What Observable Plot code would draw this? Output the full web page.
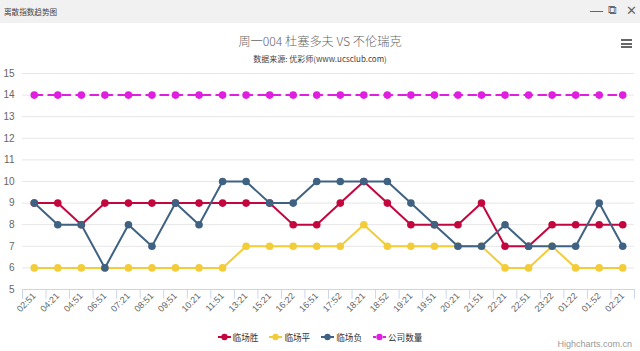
<!DOCTYPE html>
<html>
<head>
<meta charset="utf-8">
<script src="https://cdn.jsdelivr.net/npm/d3@7"></script>
<script src="https://cdn.jsdelivr.net/npm/@observablehq/plot@0.6"></script>
<style>
  html, body { margin: 0; padding: 0; background: #fff; }
  body { width: 640px; height: 351px; overflow: hidden; font-family: "Liberation Sans", "Noto Sans CJK SC", sans-serif; }
  #wrap { position: relative; width: 640px; height: 351px; }
  #bar { position: absolute; left: 0; top: 0; width: 640px; height: 23px; background: #f1f1f1; }
  #bar .t { position: absolute; left: 4px; top: 6px; font-size: 7.6px; color: #444; font-family: "Noto Sans CJK SC", sans-serif; }
  #bar .ic { position: absolute; top: 3px; font-size: 13px; color: #666; }
  #title { position: absolute; left: 0; width: 640px; top: 32px; text-align: center; font-size: 12.2px; color: #666; font-family: "Noto Sans CJK SC", sans-serif; font-weight: 300; }
  #sub { position: absolute; left: 0; width: 640px; top: 53px; text-align: center; font-size: 8px; color: #444; font-family: "Noto Sans CJK SC", sans-serif; }
  #menu { position: absolute; left: 621px; top: 39px; width: 11px; }
  #menu div { height: 2px; background: #666; margin-bottom: 1.5px; }
  #chart { position: absolute; left: 0; top: 62px; }
  #legend { position: absolute; left: 0; width: 640px; top: 331px; display: flex; justify-content: center; font-size: 8.6px; color: #333; font-family: "Noto Sans CJK SC", sans-serif; }
  #legend .it { display: flex; align-items: center; margin: 0 5.5px; }
  #legend svg { margin-right: 2px; }
  #credit { position: absolute; right: 8px; top: 339px; font-size: 9px; line-height: 10px; color: #999; }
</style>
</head>
<body>
<div id="wrap">
  <div id="bar"><span class="t">离散指数趋势图</span>
    <span class="ic" style="left:590px;">—</span>
    <span class="ic" style="left:608px;font-size:12px;">⧉</span>
    <span class="ic" style="left:626px;">✕</span>
  </div>
  <div id="title">周一004 杜塞多夫 VS 不伦瑞克</div>
  <div id="sub">数据来源: 优彩师(www.ucsclub.com)</div>
  <div id="menu"><div></div><div></div><div></div></div>
  <div id="chart"></div>
  <div id="legend"></div>
  <div id="credit">Highcharts.com.cn</div>
</div>
<script>
const categories = ["02:51","04:21","04:51","06:51","07:21","08:51","09:51","10:21","11:51","13:21","15:21","16:22","16:51","17:52","18:21","18:52","19:21","19:51","20:21","21:51","22:21","22:51","23:22","01:22","01:52","02:21"];
const seriesNames = ["临场胜","临场平","临场负","公司数量"];
const seriesColors = ["#c3063e","#f3cc3a","#3f6283","#e01ee0"];
const winValues  = [9,9,8,9,9,9,9,9,9,9,9,8,8,9,10,9,8,8,8,9,7,7,8,8,8,8];
const drawValues = [6,6,6,6,6,6,6,6,6,7,7,7,7,7,8,7,7,7,7,7,6,6,7,6,6,6];
const lossValues = [9,8,8,6,8,7,9,8,10,10,9,9,10,10,10,10,9,8,7,7,8,7,7,7,9,7];
const companyValues = [14,14,14,14,14,14,14,14,14,14,14,14,14,14,14,14,14,14,14,14,14,14,14,14,14,14];
const yTicks = [5,6,7,8,9,10,11,12,13,14,15];

const allValues = [winValues, drawValues, lossValues, companyValues];
const rows = allValues.map((vals, si) => vals.map((v, i) => ({t: categories[i], v, s: seriesNames[si]})));

const W = 640, H = 258, ML = 22, MR = 6, MT = 11, MB = 31;
const step = (W - ML - MR) / categories.length;

const seriesMarks = rows.flatMap((data, si) => [
  Plot.line(data, {x: "t", y: "v", stroke: seriesColors[si], strokeWidth: 2,
    strokeDasharray: si === 3 ? "8,6" : null}),
  Plot.dot(data, {x: "t", y: "v", fill: seriesColors[si], r: 3.8})
]);

const chart = Plot.plot({
  width: W, height: H,
  marginLeft: ML, marginRight: MR, marginTop: MT, marginBottom: MB,
  x: {type: "point", domain: categories, padding: 0.5, round: false, label: null},
  y: {domain: [5, 15], label: null},
  style: {fontFamily: "'Liberation Sans', sans-serif", background: "transparent"},
  marks: [
    Plot.ruleY(yTicks, {stroke: "#e6e6e6", strokeWidth: 1}),
    Plot.ruleY([5], {stroke: "#ccd6eb", strokeWidth: 1}),
    Plot.ruleX(categories, {x: d => d, y1: 5, y2: 4.55, dx: -step / 2, stroke: "#ccd6eb"}),
    Plot.ruleX(categories.slice(-1), {x: d => d, y1: 5, y2: 4.55, dx: step / 2, stroke: "#ccd6eb"}),
    Plot.axisY(yTicks, {tickSize: 0, tickPadding: 8, fontSize: 10, fill: "#666", label: null}),
    Plot.axisX({tickSize: 0, tickPadding: 5, tickRotate: -45, fontSize: 9, fill: "#666", label: null}),
    ...seriesMarks
  ]
});
document.getElementById("chart").appendChild(chart);

const legend = document.getElementById("legend");
seriesNames.forEach((n, i) => {
  const it = document.createElement("div");
  it.className = "it";
  it.innerHTML = `<svg width="13" height="10"><line x1="0" y1="5" x2="13" y2="5" stroke="${seriesColors[i]}" stroke-width="2" ${i===3?'stroke-dasharray="3,2"':''}/><circle cx="6.5" cy="5" r="3.2" fill="${seriesColors[i]}"/></svg><span>${n}</span>`;
  legend.appendChild(it);
});
</script>
</body>
</html>
